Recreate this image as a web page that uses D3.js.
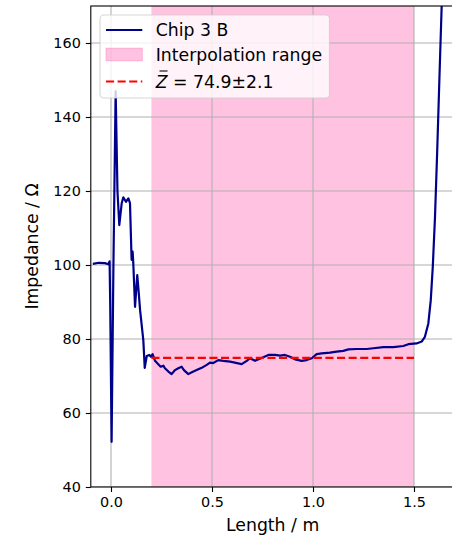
<!DOCTYPE html>
<html>
<head>
<meta charset="utf-8">
<script src="https://cdn.jsdelivr.net/npm/d3@7"></script>
<style>
  html, body { margin: 0; padding: 0; background: #fff; }
  svg { display: block; font-family: "DejaVu Sans", sans-serif; }
</style>
</head>
<body>
<svg id="chart" width="452" height="536"></svg>
<script>
// Measured impedance profile along the line (length in m, impedance in Ohm)
const lengths = [
  -0.09, -0.06, -0.03, -0.013, -0.007, -0.004, 0.003, 0.012, 0.023, 0.032,
  0.041, 0.053, 0.061, 0.074, 0.086, 0.094, 0.102, 0.107, 0.110, 0.119,
  0.130, 0.135, 0.144, 0.160, 0.167, 0.177, 0.190, 0.198, 0.206, 0.218,
  0.234, 0.246, 0.259, 0.267, 0.284, 0.300, 0.317, 0.333, 0.350, 0.361,
  0.383, 0.400, 0.424, 0.449, 0.474, 0.490, 0.506, 0.531, 0.556, 0.590,
  0.630, 0.647, 0.672, 0.688, 0.713, 0.754, 0.779, 0.812, 0.837, 0.861,
  0.886, 0.911, 0.944, 0.969, 0.994, 1.018, 1.043, 1.084, 1.117, 1.150,
  1.175, 1.216, 1.266, 1.299, 1.348, 1.398, 1.447, 1.472, 1.513, 1.538,
  1.554, 1.571, 1.583, 1.593, 1.604, 1.615, 1.625, 1.637, 1.650
];
const impedance = [
  100.3, 100.6, 100.5, 100.2, 101.0, 90.0, 52.2, 100.0, 147.0, 120.0,
  110.8, 116.7, 118.3, 117.1, 118.0, 116.7, 101.4, 103.6, 100.9, 88.7,
  97.3, 94.1, 87.8, 79.7, 72.2, 75.4, 75.7, 75.2, 75.9, 74.1,
  73.2, 72.5, 72.8, 72.1, 71.2, 70.5, 71.6, 72.1, 72.5, 71.6,
  70.5, 71.0, 71.6, 72.2, 73.0, 73.6, 73.5, 74.3, 74.1, 73.9,
  73.4, 73.2, 74.1, 74.8, 74.1, 75.1, 75.7, 75.7, 75.5, 75.7,
  75.2, 74.5, 74.1, 74.3, 74.8, 75.9, 76.1, 76.3, 76.6, 76.8,
  77.2, 77.3, 77.3, 77.5, 77.8, 77.8, 78.1, 78.6, 78.8, 79.3,
  80.6, 84.2, 90.5, 99.5, 113.0, 131.0, 149.0, 170.0, 195.0
];

// Interpolation window and fitted mean impedance
const interpRange = [0.2, 1.5];
const meanZ = 74.9;
const meanZErr = 2.1;

const xTicks = [0.0, 0.5, 1.0, 1.5];
const yTicks = [40, 60, 80, 100, 120, 140, 160];
const xDomain = [-0.1, 1.7];
const yDomain = [40, 170];

const svg = d3.select("#chart");
const pLeft = 90.8, pRight = 454.4, pTop = 6, pBottom = 487;

const x = d3.scaleLinear().domain(xDomain).range([pLeft, pRight]);
const y = d3.scaleLinear().domain(yDomain).range([pBottom, pTop]);

svg.append("defs").append("clipPath").attr("id", "plotClip")
  .append("rect").attr("x", pLeft).attr("y", pTop)
  .attr("width", pRight - pLeft).attr("height", pBottom - pTop);

const plot = svg.append("g").attr("clip-path", "url(#plotClip)");

// Shaded interpolation span
plot.append("rect")
  .attr("x", x(interpRange[0])).attr("y", pTop)
  .attr("width", x(interpRange[1]) - x(interpRange[0]))
  .attr("height", pBottom - pTop)
  .attr("fill", "#ff69b4").attr("fill-opacity", 0.4);

// Grid lines
plot.append("g").selectAll("line").data(xTicks).join("line")
  .attr("x1", d => x(d)).attr("x2", d => x(d))
  .attr("y1", pTop).attr("y2", pBottom)
  .attr("stroke", "#b0b0b0").attr("stroke-width", 1.1);
plot.append("g").selectAll("line").data(yTicks).join("line")
  .attr("x1", pLeft).attr("x2", pRight)
  .attr("y1", d => y(d)).attr("y2", d => y(d))
  .attr("stroke", "#b0b0b0").attr("stroke-width", 1.1);

// Impedance trace
const pts = lengths.map((l, i) => [l, impedance[i]]);
plot.append("path")
  .datum(pts)
  .attr("fill", "none")
  .attr("stroke", "#00008b")
  .attr("stroke-width", 2.2)
  .attr("stroke-linejoin", "round")
  .attr("d", d3.line().x(d => x(d[0])).y(d => y(d[1])));

// Mean impedance over the interpolation range
plot.append("line")
  .attr("x1", x(interpRange[0])).attr("x2", x(interpRange[1]))
  .attr("y1", y(meanZ)).attr("y2", y(meanZ))
  .attr("stroke", "#ff0000").attr("stroke-width", 2.2)
  .attr("stroke-dasharray", "8.1,3.5");

// Axes
const xAxis = svg.append("g").attr("transform", `translate(0,${pBottom})`)
  .call(d3.axisBottom(x).tickValues(xTicks).tickFormat(d3.format(".1f")).tickSizeOuter(0).tickSize(5).tickPadding(5));
const yAxis = svg.append("g").attr("transform", `translate(${pLeft},0)`)
  .call(d3.axisLeft(y).tickValues(yTicks).tickFormat(d3.format("d")).tickSizeOuter(0).tickSize(5).tickPadding(5));
[xAxis, yAxis].forEach(a => {
  a.select(".domain").remove();
  a.selectAll("line").attr("stroke", "#000").attr("stroke-width", 1.1);
  a.selectAll("text").attr("font-size", 14.4).attr("fill", "#000")
    .attr("font-family", "DejaVu Sans, sans-serif");
});

// Spines
svg.append("rect")
  .attr("x", pLeft).attr("y", pTop)
  .attr("width", pRight - pLeft).attr("height", pBottom - pTop)
  .attr("fill", "none").attr("stroke", "#000").attr("stroke-width", 1.1);

// Axis labels
svg.append("text")
  .attr("x", (pLeft + pRight) / 2).attr("y", 531)
  .attr("text-anchor", "middle").attr("font-size", 17.3)
  .text("Length / m");
svg.append("text")
  .attr("transform", `translate(38,${(pTop + pBottom) / 2}) rotate(-90)`)
  .attr("text-anchor", "middle").attr("font-size", 17.3)
  .text("Impedance / Ω");

// Legend
const lg = svg.append("g");
lg.append("rect")
  .attr("x", 100).attr("y", 15).attr("width", 229.5).attr("height", 83)
  .attr("rx", 4).attr("ry", 4)
  .attr("fill", "#fff").attr("fill-opacity", 0.8)
  .attr("stroke", "#cccccc").attr("stroke-opacity", 0.8).attr("stroke-width", 1.1);
const rowY = [30, 54.5, 81.5];
lg.append("line").attr("x1", 106).attr("x2", 142.3)
  .attr("y1", rowY[0]).attr("y2", rowY[0])
  .attr("stroke", "#00008b").attr("stroke-width", 2.2);
lg.append("rect").attr("x", 106).attr("y", rowY[1] - 6.3)
  .attr("width", 36.3).attr("height", 12.6)
  .attr("fill", "#ff69b4").attr("fill-opacity", 0.4)
  .attr("stroke", "#ff69b4").attr("stroke-opacity", 0.4);
lg.append("line").attr("x1", 106).attr("x2", 142.3)
  .attr("y1", rowY[2]).attr("y2", rowY[2])
  .attr("stroke", "#ff0000").attr("stroke-width", 2.2)
  .attr("stroke-dasharray", "8.1,3.5");

lg.append("text").attr("x", 155.7).attr("y", rowY[0] + 6.2)
  .attr("font-size", 17.3).text("Chip 3 B");
lg.append("text").attr("x", 155.7).attr("y", rowY[1] + 6.2)
  .attr("font-size", 17.3).text("Interpolation range");
const zt = lg.append("text").attr("x", 155.7).attr("y", rowY[2] + 6.2)
  .attr("font-size", 17.3);
zt.append("tspan").attr("font-style", "italic").text("Z");
zt.append("tspan").text(` = ${meanZ.toFixed(1)}±${meanZErr.toFixed(1)}`);
// bar accent over the mean symbol
lg.append("line").attr("x1", 159.5).attr("x2", 167.5)
  .attr("y1", rowY[2] - 10.5).attr("y2", rowY[2] - 10.5)
  .attr("stroke", "#000").attr("stroke-width", 1.1);
</script>
</body>
</html>
